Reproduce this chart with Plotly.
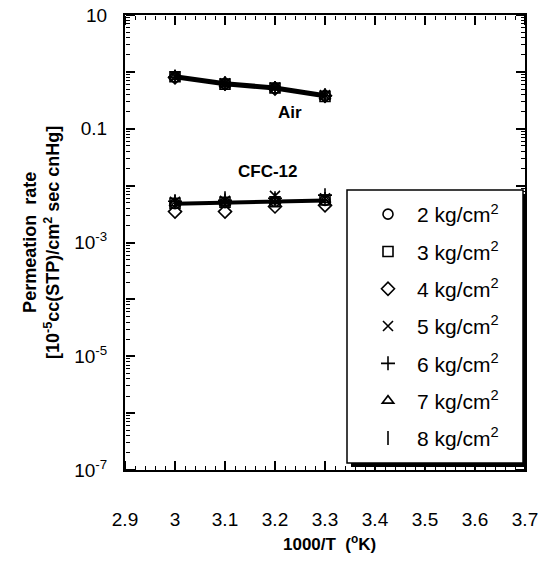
import plotly.graph_objects as go

# 1000/T values (1/K x 1000)
temps = [3.0, 3.1, 3.2, 3.3]

# Fitted trend lines
air_fit = [0.82, 0.62, 0.52, 0.38]
cfc_fit = [4.8e-3, 5.0e-3, 5.3e-3, 5.5e-3]

pressures = ["2", "3", "4", "5", "6", "7", "8"]
symbols = ["circle-open", "square-open", "diamond-open", "x-thin-open",
           "cross-thin-open", "triangle-up-open", "line-ns-open"]

# Permeation rate of air at each feed pressure
air_vals = {
    "2": [0.82, 0.62, 0.52, 0.38],
    "3": [0.82, 0.61, 0.52, 0.37],
    "4": [0.80, 0.62, 0.51, 0.38],
    "5": [0.83, 0.63, 0.53, 0.39],
    "6": [0.81, 0.62, 0.52, 0.38],
    "7": [0.82, 0.61, 0.53, 0.37],
    "8": [0.83, 0.63, 0.52, 0.39],
}
# Permeation rate of CFC-12 at each feed pressure
cfc_vals = {
    "2": [4.8e-3, 5.0e-3, 5.3e-3, 5.5e-3],
    "3": [4.9e-3, 5.1e-3, 5.2e-3, 5.6e-3],
    "4": [3.5e-3, 3.5e-3, 4.3e-3, 4.5e-3],
    "5": [5.2e-3, 5.4e-3, 6.6e-3, 6.0e-3],
    "6": [5.3e-3, 5.5e-3, 6.0e-3, 6.8e-3],
    "7": [4.9e-3, 5.0e-3, 5.3e-3, 5.6e-3],
    "8": [5.2e-3, 6.0e-3, 5.6e-3, 5.8e-3],
}

y_tickvals = [10, 1, 0.1, 1e-2, 1e-3, 1e-4, 1e-5, 1e-6, 1e-7]
y_ticktext = ["10", "", "0.1", "", "10<sup>-3</sup>", "", "10<sup>-5</sup>", "",
              "10<sup>-7</sup>"]
y_minor = [m * 10 ** k for k in range(-7, 1) for m in range(2, 10)]

x_tickvals = [2.9, 3.0, 3.1, 3.2, 3.3, 3.4, 3.5, 3.6, 3.7]
x_ticktext = ["2.9", "3", "3.1", "3.2", "3.3", "3.4", "3.5", "3.6", "3.7"]

X_RANGE = [2.9, 3.7]
Y_RANGE = [-7, 1]

FONT = "Liberation Sans, Arial, sans-serif"


# paper coordinates from pixel positions of the plotting area (125..525 x, 15..470 y)
def px_x(v):
    return (v - 125) / 400.0


def px_y(v):
    return (470 - v) / 455.0


fig = go.Figure()

for p, sym in zip(pressures, symbols):
    fig.add_trace(go.Scatter(
        x=temps + temps,
        y=air_vals[p] + cfc_vals[p],
        mode="markers",
        name=f"{p} kg/cm<sup>2</sup>",
        legendgroup=p,
        marker=dict(symbol=sym, size=10, color="black",
                    line=dict(color="black", width=1.6)),
    ))

# trend lines live on the tick-only overlay axes (same ranges as the main axes)
fig.add_trace(go.Scatter(x=temps, y=air_fit, mode="lines", showlegend=False,
                         xaxis="x2", yaxis="y2",
                         line=dict(color="black", width=5)))
fig.add_trace(go.Scatter(x=temps, y=cfc_fit, mode="lines", showlegend=False,
                         xaxis="x3", yaxis="y3",
                         line=dict(color="black", width=4)))

major = dict(ticks="outside", ticklen=9, tickwidth=2, tickcolor="black")
minor_x = dict(ticks="outside", ticklen=4, tickwidth=1, tickcolor="black",
               dtick=0.02, showgrid=False)
minor_y = dict(ticks="outside", ticklen=4, tickwidth=1, tickcolor="black",
               tickmode="array", tickvals=y_minor, showgrid=False)

fig.update_layout(
    template="none",
    width=551, height=569,
    margin=dict(l=125, r=26, t=15, b=99),
    paper_bgcolor="white", plot_bgcolor="white",
    showlegend=True,
    # labelled axes with the frame
    xaxis=dict(range=X_RANGE, tickmode="array", tickvals=x_tickvals, ticktext=x_ticktext,
               ticks="", showline=True, linecolor="black", linewidth=2, mirror=True,
               showgrid=False, zeroline=False, ticklabelstandoff=31,
               tickfont=dict(family=FONT, size=19, color="black")),
    yaxis=dict(type="log", range=Y_RANGE, tickmode="array", tickvals=y_tickvals,
               ticktext=y_ticktext, ticks="", showline=True, linecolor="black",
               linewidth=2, mirror=True, showgrid=False, zeroline=False,
               ticklabelstandoff=12,
               tickfont=dict(family=FONT, size=19, color="black")),
    # tick marks pointing into the plot on the bottom / left edges
    xaxis2=dict(range=X_RANGE, overlaying="x", side="top", anchor="free", position=0,
                tickmode="array", tickvals=x_tickvals, showticklabels=False,
                showline=False, showgrid=False, zeroline=False, minor=minor_x, **major),
    yaxis2=dict(type="log", range=Y_RANGE, overlaying="y", side="right", anchor="free",
                position=0, tickmode="array", tickvals=y_tickvals, showticklabels=False,
                showline=False, showgrid=False, zeroline=False, minor=minor_y, **major),
    # tick marks pointing into the plot on the top / right edges
    xaxis3=dict(range=X_RANGE, overlaying="x", side="bottom", anchor="free", position=1,
                tickmode="array", tickvals=x_tickvals, showticklabels=False,
                showline=False, showgrid=False, zeroline=False, minor=minor_x, **major),
    yaxis3=dict(type="log", range=Y_RANGE, overlaying="y", side="left", anchor="free",
                position=1, tickmode="array", tickvals=y_tickvals, showticklabels=False,
                showline=False, showgrid=False, zeroline=False, minor=minor_y, **major),
    legend=dict(x=px_x(349), y=px_y(194), xanchor="left", yanchor="top",
                bgcolor="rgba(0,0,0,0)", borderwidth=0,
                font=dict(family=FONT, size=21, color="black"),
                tracegroupgap=7, indentation=10, itemwidth=48),
)

fig.add_annotation(x=3.23, y=-0.72, xref="x", yref="y", text="<b>Air</b>",
                   showarrow=False, font=dict(family=FONT, size=17, color="black"))
fig.add_annotation(x=3.186, y=-1.754, xref="x", yref="y", text="<b>CFC-12</b>",
                   showarrow=False, font=dict(family=FONT, size=17, color="black"))
fig.add_annotation(x=0.51, y=px_y(543), xref="paper", yref="paper",
                   xanchor="center", yanchor="middle",
                   text="<b>1000/T  (<sup>o</sup>K)</b>", showarrow=False,
                   font=dict(family=FONT, size=17, color="black"))
fig.add_annotation(x=px_x(41), y=px_y(243), xref="paper", yref="paper",
                   xanchor="center", yanchor="middle", textangle=-90,
                   text="<b>Permeation  rate<br>[10<sup>-5</sup>cc(STP)/cm<sup>2</sup> sec cnHg]</b>",
                   showarrow=False, font=dict(family=FONT, size=18, color="black"))

# legend frame: drop shadow plus white box
fig.add_shape(type="rect", xref="paper", yref="paper",
              x0=px_x(351), x1=px_x(527), y0=px_y(467), y1=px_y(194),
              fillcolor="black", line=dict(width=0), layer="above")
fig.add_shape(type="rect", xref="paper", yref="paper",
              x0=px_x(347), x1=px_x(523), y0=px_y(463), y1=px_y(190),
              fillcolor="white", line=dict(color="black", width=1.5), layer="above")

fig.write_html("out.html")
